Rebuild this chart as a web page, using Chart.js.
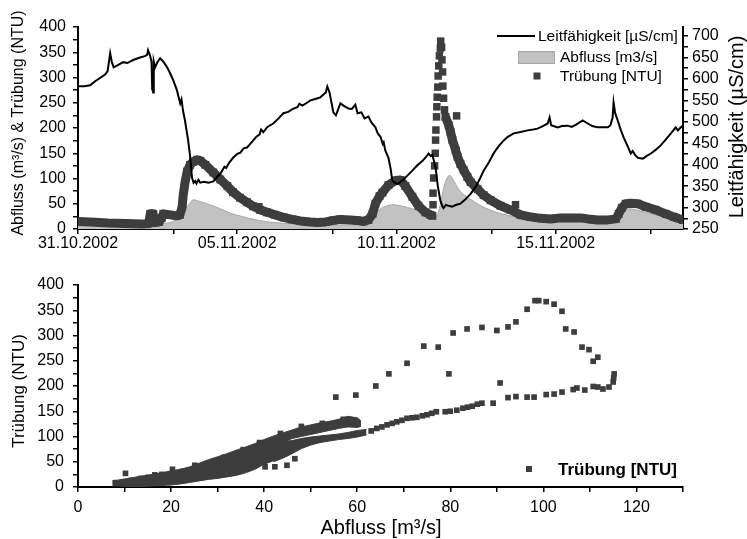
<!DOCTYPE html>
<html lang="de">
<head>
<meta charset="utf-8">
<title>Leitfähigkeit, Abfluss und Trübung</title>
<script src="https://cdn.jsdelivr.net/npm/chart.js@4.4.1/dist/chart.umd.min.js"></script>
<style>
  html, body { margin: 0; padding: 0; background: #fff; }
  #wrap { position: relative; width: 747px; height: 539px; overflow: hidden; }
  canvas { position: absolute; left: 0; }
  #oben { top: 0; }
  #unten { top: 262px; }
</style>
</head>
<body>
<div id="wrap">
  <canvas id="oben" width="747" height="262"></canvas>
  <canvas id="unten" width="747" height="277"></canvas>
</div>
<script>
// ---- Daten oben: Zeitreihe ab 31.10.2002 (x in Tagen) ----
const tagTicks = [0, 3, 5, 8, 10, 13, 15, 18];
const datumTage = [0, 5, 10, 15];
const datumLabels = ['31.10.2002', '05.11.2002', '10.11.2002', '15.11.2002'];

// Leitfähigkeit [µS/cm] (rechte Achse)
const leitTage = [0.00, 0.20, 0.38, 0.55, 0.69, 0.85, 0.93, 1.01, 1.06, 1.12, 1.25, 1.42, 1.55, 1.73, 1.95, 2.10, 2.17, 2.20, 2.26, 2.31,
  2.33, 2.35, 2.36, 2.38, 2.42, 2.50, 2.58, 2.68, 2.80, 2.90, 2.99, 3.10, 3.21, 3.25, 3.30, 3.36, 3.46, 3.52, 3.58, 3.63,
  3.68, 3.72, 3.78, 3.84, 3.95, 4.10, 4.25, 4.35, 4.47, 4.60, 4.65, 4.75, 4.87, 5.00, 5.10, 5.20, 5.31, 5.45, 5.60, 5.70,
  5.75, 5.82, 5.95, 6.13, 6.30, 6.45, 6.60, 6.75, 6.89, 6.95, 7.05, 7.20, 7.30, 7.45, 7.61, 7.70, 7.78, 7.83, 7.90, 8.02,
  8.10, 8.24, 8.35, 8.49, 8.60, 8.71, 8.78, 8.90, 9.00, 9.12, 9.22, 9.34, 9.42, 9.50, 9.57, 9.60, 9.65, 9.75, 9.82, 9.87,
  9.95, 10.03, 10.19, 10.35, 10.50, 10.65, 10.82, 10.95, 11.01, 11.08, 11.13, 11.23, 11.30, 11.38, 11.45, 11.48, 11.55, 11.64, 11.75, 11.86,
  12.01, 12.15, 12.33, 12.50, 12.64, 12.74, 12.90, 13.05, 13.20, 13.36, 13.50, 13.68, 13.90, 14.12, 14.30, 14.43, 14.60, 14.75, 14.81, 14.86,
  15.06, 15.20, 15.38, 15.50, 15.63, 15.85, 16.01, 16.15, 16.32, 16.50, 16.64, 16.72, 16.79, 16.82, 16.87, 16.95, 17.05, 17.14, 17.25, 17.36,
  17.42, 17.50, 17.58, 17.74, 17.85, 17.99, 18.15, 18.30, 18.45, 18.62, 18.77, 18.84, 18.93, 19.00];
const leitWerte = [583, 583, 585, 595, 602, 610, 618, 660, 640, 627, 632, 639, 637, 644, 650, 653, 656, 667, 655, 640,
  575, 610, 568, 640, 627, 640, 648, 640, 627, 612, 597, 575, 543, 552, 525, 503, 456, 420, 370, 358,
  362, 356, 365, 358, 360, 358, 361, 370, 379, 395, 392, 405, 416, 425, 428, 438, 440, 452, 465, 470,
  482, 476, 488, 496, 508, 520, 523, 530, 534, 542, 538, 545, 550, 553, 557, 563, 568, 582, 568, 522,
  515, 543, 537, 531, 530, 540, 520, 522, 508, 512, 498, 487, 472, 465, 448, 452, 433, 416, 390, 363,
  358, 355, 363, 375, 386, 398, 409, 420, 426, 420, 423, 393, 350, 316, 302, 299, 306, 304, 302, 306,
  309, 318, 332, 350, 370, 386, 405, 426, 442, 456, 465, 473, 476, 480, 482, 484, 490, 496, 510, 492,
  487, 490, 491, 488, 493, 503, 496, 490, 487, 487, 487, 492, 510, 545, 520, 503, 480, 463, 445, 426,
  432, 422, 416, 414, 420, 426, 435, 445, 458, 473, 487, 480, 487, 491];

// Abfluss [m3/s] (linke Achse)
const abflussTage = [0, 0.5, 1.0, 1.5, 2.0, 2.3, 2.5, 2.7, 2.9, 3.05, 3.2, 3.35, 3.5, 3.62, 3.75, 4.0, 4.4, 4.8, 5.2, 5.6,
  6.0, 6.5, 7.0, 7.5, 8.0, 8.5, 8.9, 9.1, 9.3, 9.5, 9.7, 9.9, 10.2, 10.5, 10.8, 11.0, 11.2, 11.3, 11.4, 11.5,
  11.6, 11.68, 11.8, 12.0, 12.3, 12.6, 13.0, 13.5, 14.0, 15.0, 16.0, 16.8, 17.0, 17.15, 17.3, 17.6, 18.0, 18.5, 19.0];
const abflussWerte = [10, 9, 9, 8, 8, 8, 9, 11, 13, 17, 26, 38, 50, 58, 56, 51, 42, 31, 24, 18,
  14, 11, 9, 8, 8, 8, 9, 14, 28, 40, 46, 48, 45, 40, 34, 29, 25, 30, 55, 85,
  102, 106, 95, 75, 60, 48, 36, 27, 21, 17, 15, 14, 22, 34, 40, 37, 30, 22, 15];

// Trübung [NTU], durchgehende Messreihe (null = Lücke während der Spitze)
const truebungTage = [0.00, 0.38, 0.94, 1.48, 2.01, 2.22, 2.27, 2.36, 2.40, 2.55, 2.63, 2.68, 2.90, 3.10, 3.20, 3.27, 3.30, 3.36, 3.43, 3.52,
  3.62, 3.74, 3.84, 4.00, 4.25, 4.47, 4.69, 4.87, 5.09, 5.31, 5.50, 5.72, 5.94, 6.19, 6.45, 6.73, 6.98, 7.30, 7.52, 7.77,
  8.02, 8.24, 8.55, 8.77, 8.96, 9.12, 9.25, 9.34, 9.47, 9.56, 9.75, 9.97, 10.13, 10.28, 10.50, 10.69, 10.91, 11.07, 11.13, 11.30,
  11.54, 11.64, 11.70, 11.76, 11.86, 11.92, 12.01, 12.11, 12.23, 12.33, 12.55, 12.74, 12.96, 13.27, 13.58, 13.90, 14.21, 14.43, 14.84, 15.16,
  15.47, 15.79, 16.01, 16.32, 16.64, 16.89, 16.98, 17.08, 17.20, 17.36, 17.58, 17.83, 18.14, 18.46, 18.71, 19.00];
const truebungWerte = [15, 14, 12, 11, 10, 11, 30, 30, 13, 14, 22, 30, 28, 26, 28, 44, 65, 92, 114, 127,
  133, 137, 135, 127, 112, 98, 85, 73, 62, 53, 45, 38, 33, 28, 23, 19, 16, 14, 13, 14,
  17, 19, 18, 17, 15, 18, 30, 50, 65, 72, 87, 96, 97, 85, 64, 46, 33, 28, 26, null,
  222, 206, 192, 176, 156, 143, 129, 117, 103, 93, 79, 67, 57, 46, 38, 28, 24, 22, 20, 22,
  22, 22, 20, 18, 18, 20, 30, 42, 50, 51, 50, 44, 38, 30, 24, 18];

// Trübung, einzelne Messpunkte (Hochwasserspitze und Ausreißer)
const einzelTage = [5.68, 11.15, 11.15, 11.17, 11.20, 11.22, 11.23, 11.24, 11.26, 11.27, 11.28, 11.30, 11.31, 11.33, 11.35, 11.38, 11.39, 11.42, 11.43, 11.45,
  11.46, 11.48, 11.51, 11.89, 13.74];
const einzelWerte = [44, 48, 71, 101, 125, 150, 176, 196, 222, 242, 261, 281, 303, 323, 343, 358, 372, 360, 335, 311,
  283, 259, 236, 224, 48];

// ---- Daten unten: Trübung gegen Abfluss ----
const streuQ = [55.4, 59.7, 64.0, 66.8, 70.7, 74.3, 77.4, 79.7, 80.6, 83.6, 86.8, 90.0, 92.4, 94.1, 96.5, 98.2, 99.0, 100.6, 102.3, 104.0,
  104.8, 106.6, 108.3, 109.8, 110.7, 111.7, 90.7, 63.0, 64.2, 65.3, 66.4, 67.5, 68.5, 69.6, 70.7, 71.8, 72.8, 74.0, 75.0, 76.0,
  77.0, 78.9, 80.0, 81.4, 82.7, 83.7, 84.7, 85.8, 86.8, 89.2, 92.4, 94.1, 96.5, 98.0, 100.6, 102.3, 104.0, 106.4, 107.2, 108.9,
  110.7, 111.7, 112.8, 114.1, 115.0, 115.1, 115.2, 46.6, 40.2, 42.3, 44.9, 10.2, 16.5, 20.3, 25.1,
  8.0, 9.5, 11.5, 13.5, 15.0, 18.0, 22.5, 27.5, 31.5, 35.5, 39.0, 43.5, 48.0, 52.5, 57.0];
const streuT = [178, 182, 200, 224, 245, 279, 277, 224, 305, 313, 316, 310, 317, 327, 352, 369, 369, 367, 362, 348,
  313, 307, 277, 272, 249, 257, 206, 111, 116, 119, 123, 126, 129, 132, 136, 137, 138, 141, 143, 146,
  149, 149, 150, 152, 156, 158, 160, 164, 166, 166, 177, 179, 178, 178, 183, 184, 188, 193, 196, 192,
  199, 198, 194, 198, 208, 216, 224, 56, 40, 40, 43, 27, 24, 35, 43,
  8, 10, 13, 17, 19, 25, 31, 45, 59, 74, 88, 106, 120, 126, 134];

// dichte Punktwolke: obere und untere Kante
const wolkeAQ = [7.5, 9, 10, 12, 14, 16, 18, 20, 22, 24, 26, 28, 30, 32, 34, 36, 38, 40, 42, 44, 46, 48, 50, 52, 54, 56, 58, 60, 60.8];
const wolkeAOben = [13, 14, 16, 19, 22, 25, 28, 32, 35, 40, 47, 54, 60, 66, 73, 79, 86, 94, 101, 107, 113, 119, 123, 127, 130, 134, 140, 137, 131];
const wolkeAUnten = [2, 2, 1, 1, 1, 2, 3, 4, 6, 9, 12, 15, 17, 20, 23, 28, 35, 45, 52, 88, 96, 100, 104, 108, 112, 116, 119, 118, 120];
const wolkeBQ = [42, 44, 46, 48, 50, 52, 54, 56, 58, 60, 62];
const wolkeBOben = [85, 90, 92, 96, 99, 101, 103, 105, 108, 112, 114];
const wolkeBUnten = [50, 57, 66, 76, 83, 88, 91, 94, 96, 99, 103];

// ---- Stil ----
const SCHRIFT = "'Liberation Sans', Arial, sans-serif";
const DUNKEL = '#3d3d3d';
const GRAU = '#c2c2c2';

function paare(xs, ys) {
  return xs.map((x, i) => ({ x: x, y: ys[i] }));
}

function achsenStil(extra) {
  return Object.assign({
    grid: { drawOnChartArea: false, drawTicks: true, tickLength: 5, color: '#000', lineWidth: 1.5 },
    border: { display: true, color: '#000', width: 2 },
  }, extra);
}

function tickStil(extra) {
  return Object.assign({
    autoSkip: false, maxRotation: 0, color: '#000',
    font: { family: SCHRIFT, size: 16 },
  }, extra);
}

// Titel und Legenden direkt auf die Leinwand
const beschriftung = {
  id: 'beschriftung',
  afterDraw(chart, args, opts) {
    const ctx = chart.ctx;
    ctx.save();
    ctx.fillStyle = '#000';
    ctx.textBaseline = 'middle';
    (opts.titel || []).forEach(t => {
      ctx.save();
      ctx.translate(t.x, t.y);
      ctx.rotate(t.drehung || 0);
      ctx.font = t.font;
      ctx.textAlign = 'center';
      ctx.fillText(t.text, 0, 0);
      ctx.restore();
    });
    (opts.legende || []).forEach(e => {
      const ds = chart.data.datasets[e.ds];
      if (e.typ === 'linie') {
        ctx.strokeStyle = ds.borderColor;
        ctx.lineWidth = ds.borderWidth;
        ctx.beginPath();
        ctx.moveTo(e.x1, e.y);
        ctx.lineTo(e.x2, e.y);
        ctx.stroke();
      } else if (e.typ === 'flaeche') {
        ctx.fillStyle = ds.backgroundColor;
        ctx.fillRect(e.x1, e.y1, e.x2 - e.x1, e.y2 - e.y1);
        ctx.strokeStyle = ds.borderColor;
        ctx.lineWidth = 1;
        ctx.strokeRect(e.x1 + 0.5, e.y1 + 0.5, e.x2 - e.x1 - 1, e.y2 - e.y1 - 1);
      } else {
        ctx.fillStyle = ds.backgroundColor;
        ctx.fillRect(e.x - e.h, e.y - e.h, 2 * e.h, 2 * e.h);
      }
      ctx.fillStyle = '#000';
      ctx.font = e.font;
      ctx.textAlign = 'left';
      ctx.fillText(ds.label, e.tx, e.ty);
    });
    ctx.restore();
  }
};

const LEG_FONT = '15.5px ' + SCHRIFT;

// ---- oberes Diagramm ----
new Chart(document.getElementById('oben'), {
  type: 'line',
  data: {
    datasets: [
      { label: 'Leitfähigkeit [µS/cm]', data: paare(leitTage, leitWerte), yAxisID: 'y1',
        borderColor: '#000', borderWidth: 2, pointRadius: 0, tension: 0, fill: false },
      { label: 'Trübung [NTU]', data: paare(truebungTage, truebungWerte), yAxisID: 'y',
        borderColor: DUNKEL, backgroundColor: DUNKEL, borderWidth: 9, borderJoinStyle: 'round',
        pointStyle: 'rect', pointRadius: 5.6, pointBorderWidth: 0, spanGaps: false, fill: false },
      { label: 'Trübung [NTU]', data: paare(einzelTage, einzelWerte), yAxisID: 'y', showLine: false,
        backgroundColor: DUNKEL, borderColor: DUNKEL, pointStyle: 'rect', pointRadius: 5.3, pointBorderWidth: 0 },
      { label: 'Abfluss [m3/s]', data: paare(abflussTage, abflussWerte), yAxisID: 'y',
        fill: 'origin', backgroundColor: GRAU, borderColor: '#a6a6a6', borderWidth: 1,
        pointRadius: 0, cubicInterpolationMode: 'monotone' },
    ]
  },
  options: {
    responsive: false,
    animation: false,
    devicePixelRatio: 1,
    layout: { padding: { top: 27, left: 0, right: 0, bottom: 0 } },
    plugins: {
      legend: { display: false },
      tooltip: { enabled: false },
      beschriftung: {
        titel: [
          { text: 'Abfluss (m³/s) & Trübung (NTU)', x: 19, y: 123, drehung: -Math.PI / 2, font: '16px ' + SCHRIFT },
          { text: 'Leitfähigkeit (µS/cm)', x: 737, y: 127, drehung: -Math.PI / 2, font: '20px ' + SCHRIFT },
        ],
        legende: [
          { typ: 'linie', ds: 0, x1: 497, x2: 535, y: 36, tx: 538, ty: 37, font: LEG_FONT },
          { typ: 'flaeche', ds: 3, x1: 518, x2: 555, y1: 51, y2: 64, tx: 560, ty: 58, font: LEG_FONT },
          { typ: 'punkt', ds: 2, x: 537, y: 76, h: 3.5, tx: 560, ty: 77, font: LEG_FONT },
        ]
      }
    },
    scales: {
      x: achsenStil({
        type: 'linear', min: 0, max: 19,
        afterBuildTicks: s => { s.ticks = tagTicks.map(v => ({ value: v })); },
        afterFit: s => { s.height = 33; },
        ticks: tickStil({ padding: 0, callback: v => {
          const i = datumTage.indexOf(v);
          return i >= 0 ? datumLabels[i] : '';
        } }),
      }),
      y: achsenStil({
        position: 'left', min: 0, max: 400,
        afterFit: s => { s.width = 78; },
        ticks: tickStil({ stepSize: 25, padding: 7, callback: v => (v % 50 === 0 ? v : '') }),
      }),
      y1: achsenStil({
        position: 'right', min: 250, max: 721,
        afterFit: s => { s.width = 64; },
        ticks: tickStil({ stepSize: 25, includeBounds: false, padding: 4, callback: v => (v % 50 === 0 ? v : '') }),
      }),
    }
  },
  plugins: [beschriftung]
});

// ---- unteres Diagramm ----
const kante = (xs, ys, fill) => ({
  label: 'Trübung [NTU]', data: paare(xs, ys), fill: fill,
  backgroundColor: DUNKEL, borderColor: DUNKEL, borderWidth: 1, pointRadius: 0, tension: 0
});

new Chart(document.getElementById('unten'), {
  type: 'line',
  data: {
    datasets: [
      { label: 'Trübung [NTU]', data: paare(streuQ, streuT), showLine: false,
        backgroundColor: DUNKEL, borderColor: DUNKEL, pointStyle: 'rect', pointRadius: 4, pointBorderWidth: 0 },
      kante(wolkeAQ, wolkeAOben, '+1'),
      kante(wolkeAQ, wolkeAUnten, false),
      kante(wolkeBQ, wolkeBOben, '+1'),
      kante(wolkeBQ, wolkeBUnten, false),
    ]
  },
  options: {
    responsive: false,
    animation: false,
    devicePixelRatio: 1,
    layout: { padding: { top: 23, left: 0, right: 64, bottom: 0 } },
    plugins: {
      legend: { display: false },
      tooltip: { enabled: false },
      beschriftung: {
        titel: [
          { text: 'Trübung (NTU)', x: 19, y: 129, drehung: -Math.PI / 2, font: '17px ' + SCHRIFT },
          { text: 'Abfluss [m³/s]', x: 381, y: 266, font: '20px ' + SCHRIFT },
        ],
        legende: [
          { typ: 'punkt', ds: 0, x: 529, y: 207, h: 3, tx: 558, ty: 208, font: 'bold 17px ' + SCHRIFT },
        ]
      }
    },
    scales: {
      x: achsenStil({
        type: 'linear', min: 0, max: 130,
        afterFit: s => { s.height = 52; },
        ticks: tickStil({ stepSize: 10, padding: 6, callback: v => (v % 20 === 0 ? v : '') }),
      }),
      y: achsenStil({
        position: 'left', min: 0, max: 400,
        afterFit: s => { s.width = 78; },
        ticks: tickStil({ stepSize: 25, padding: 9, callback: v => (v % 50 === 0 ? v : '') }),
      }),
    }
  },
  plugins: [beschriftung]
});
</script>
</body>
</html>
